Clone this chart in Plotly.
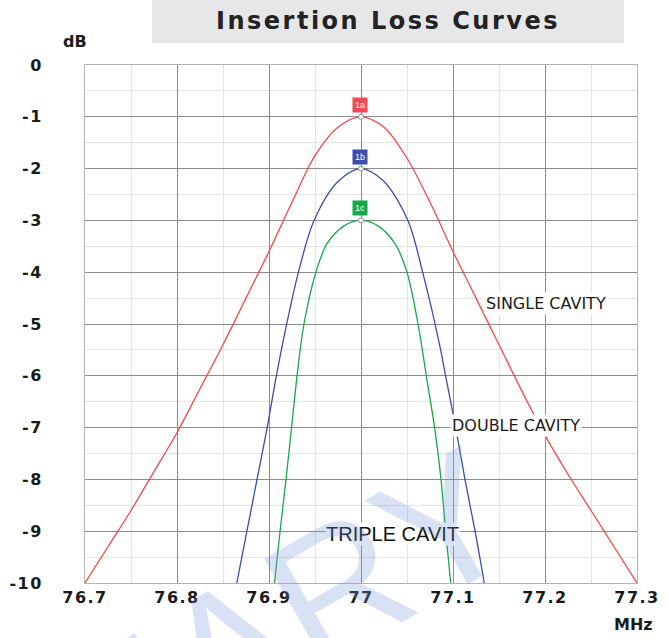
import plotly.graph_objects as go

# ---------------- data ----------------
single_f = [76.70, 76.725, 76.75, 76.775, 76.80, 76.825, 76.85, 76.875, 76.90, 76.925, 76.95, 76.975, 77.00,
            77.025, 77.05, 77.075, 77.10, 77.125, 77.15, 77.175, 77.20, 77.225, 77.25, 77.275, 77.30]
single_db = [-10.0, -9.3, -8.6, -7.85, -7.1, -6.25, -5.4, -4.5, -3.6, -2.65, -1.75, -1.2, -1.0,
             -1.2, -1.8, -2.65, -3.6, -4.5, -5.4, -6.3, -7.15, -7.9, -8.6, -9.3, -10.0]

double_f = [76.865, 76.876, 76.887, 76.898, 76.907, 76.914, 76.932, 76.949, 76.975, 77.00,
            77.025, 77.051, 77.067, 77.086, 77.093, 77.103, 77.113, 77.124, 77.134]
double_db = [-10.0, -9.0, -8.0, -7.0, -6.1, -5.45, -4.0, -3.0, -2.25, -2.0,
             -2.25, -3.0, -4.0, -5.45, -6.1, -7.0, -8.0, -9.0, -10.0]

triple_f = [76.906, 76.912, 76.9185, 76.9245, 76.9305, 76.938, 76.951, 76.963, 76.982, 77.00,
            77.018, 77.037, 77.050, 77.062, 77.071, 77.080, 77.087, 77.092, 77.0975]
triple_db = [-10.0, -9.0, -8.0, -7.0, -6.0, -5.0, -4.0, -3.45, -3.1, -3.0,
             -3.1, -3.45, -4.0, -5.0, -6.0, -7.0, -8.0, -9.0, -10.0]

x_ticks = [76.7, 76.8, 76.9, 77.0, 77.1, 77.2, 77.3]
x_ticktext = ["76.7", "76.8", "76.9", "77", "77.1", "77.2", "77.3"]
y_ticks = [0, -1, -2, -3, -4, -5, -6, -7, -8, -9, -10]
y_ticktext = ["0", "-1", "-2", "-3", "-4", "-5", "-6", "-7", "-8", "-9", "-10"]

series_names = ["SINGLE CAVITY", "DOUBLE CAVITY", "TRIPLE CAVIT"]
marker_tags = ["1a", "1b", "1c"]
colors = ["#ef4a50", "#3c4ea8", "#17a84c"]

# ---------------- figure ----------------
W, H = 668, 638
L, R, T, B = 85, 31, 65, 55
pw, ph = W - L - R, H - T - B


def px(xp):
    return (xp - L) / pw


def py(yp):
    return (H - B - yp) / ph


fig = go.Figure()
curves = [(single_f, single_db), (double_f, double_db), (triple_f, triple_db)]
for (fx, dbv), c, nm in zip(curves, colors, series_names):
    fig.add_trace(go.Scatter(x=fx, y=dbv, mode="lines", name=nm,
                             line=dict(color=c, width=1.3, shape="spline", smoothing=0.9),
                             hoverinfo="skip", showlegend=False))

annotations = []
peak_x, peak_y = [], []
for (fx, dbv), c, tag in zip(curves, colors, marker_tags):
    i = dbv.index(max(dbv))
    peak_x.append(fx[i]); peak_y.append(dbv[i])
    annotations.append(dict(x=fx[i], y=dbv[i], xref="x", yref="y", text=tag,
                            showarrow=False, yanchor="bottom", xanchor="center", yshift=4, xshift=-1,
                            bgcolor=c, borderpad=2,
                            font=dict(family="Liberation Sans, Arial", size=9, color="white")))

fig.add_trace(go.Scatter(x=peak_x, y=peak_y, mode="markers", hoverinfo="skip", showlegend=False,
                         marker=dict(size=5, color="white", line=dict(color="#888", width=1))))

# curve labels
label_font = dict(family="DejaVu Sans, Verdana", size=16, color="#1a1a1a")
annotations += [
    dict(x=77.1337, y=-4.61, xref="x", yref="y", text=series_names[0], showarrow=False,
         xanchor="left", yanchor="middle", bgcolor="white", borderpad=1, font=label_font),
    dict(x=77.0967, y=-6.95, xref="x", yref="y", text=series_names[1], showarrow=False,
         xanchor="left", yanchor="middle", bgcolor="white", borderpad=1, font=label_font),
    dict(x=76.9609, y=-9.05, xref="x", yref="y", text=series_names[2], showarrow=False,
         xanchor="left", yanchor="middle", bgcolor="white", borderpad=0,
         font=dict(family="Liberation Sans, Arial", size=20, color="#0d0d0d")),
]

# axis titles
axis_font = dict(family="DejaVu Sans", size=16, color="#1a1a1a")
annotations += [
    dict(x=px(75), y=py(42), xref="paper", yref="paper", text="<b>dB</b>", showarrow=False,
         xanchor="center", yanchor="middle", font=axis_font),
    dict(x=px(633), y=py(624), xref="paper", yref="paper", text="<b>MHz</b>", showarrow=False,
         xanchor="center", yanchor="middle", font=axis_font),
]

# watermark (only its tail is visible in the reference)
annotations.append(dict(x=px(-32), y=py(800), xref="paper", yref="paper",
                        text="PRELIMINARY", showarrow=False, textangle=-30,
                        xanchor="center", yanchor="middle",
                        font=dict(family="Liberation Sans, Arial", size=180,
                                  color="rgba(120,150,215,0.28)")))

shapes = [dict(type="rect", xref="paper", yref="paper",
               x0=px(152), x1=px(624), y0=py(43), y1=py(0),
               fillcolor="#e6e7e9", line=dict(width=0), layer="below")]

tick_font = dict(family="DejaVu Sans", size=16, color="#1a1a1a", weight="bold")
fig.update_layout(
    width=W, height=H, margin=dict(l=L, r=R, t=T, b=B),
    paper_bgcolor="white", plot_bgcolor="white",
    title=dict(text="<b>Insertion Loss Curves</b>", x=388 / W, y=1 - 21 / H,
               xanchor="center", yanchor="middle", xref="container", yref="container",
               font=dict(family="DejaVu Sans", size=24, color="#222")),
    annotations=annotations, shapes=shapes, showlegend=False,
    xaxis=dict(range=[76.7, 77.3], tickvals=x_ticks, ticktext=x_ticktext, ticks="",
               showgrid=True, gridcolor="#8c8c8c", gridwidth=1,
               minor=dict(dtick=0.05, showgrid=True, gridcolor="#e4e4e4", gridwidth=1),
               showline=True, linecolor="#b5b5b5", linewidth=1, mirror=True,
               zeroline=False, tickfont=tick_font),
    yaxis=dict(range=[-10, 0], tickvals=y_ticks, ticktext=y_ticktext, ticks="",
               showgrid=True, gridcolor="#8c8c8c", gridwidth=1,
               minor=dict(dtick=0.5, showgrid=True, gridcolor="#e4e4e4", gridwidth=1),
               showline=True, linecolor="#b5b5b5", linewidth=1, mirror=True,
               zeroline=False, tickfont=tick_font, ticklabelstandoff=38),
)

post_js = """
document.body.style.margin = '0';
var gd = document.getElementById('{plot_id}');
gd.querySelectorAll('.xtick text, .ytick text').forEach(function(t){ t.setAttribute('letter-spacing', '1.5px'); });
gd.querySelectorAll('.gtitle').forEach(function(t){ t.setAttribute('letter-spacing', '2.5px'); });
"""

fig.write_html("out.html", post_script=post_js, config={"displayModeBar": False})
